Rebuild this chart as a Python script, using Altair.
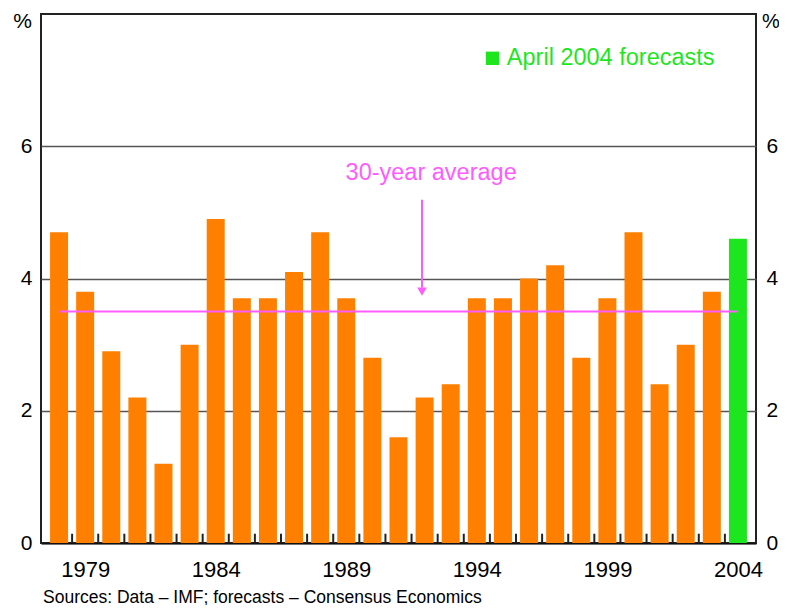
import altair as alt
import pandas as pd

# ---- data ----
years = list(range(1978, 2005))
growth = [4.7, 3.8, 2.9, 2.2, 1.2, 3.0, 4.9, 3.7, 3.7, 4.1, 4.7, 3.7, 2.8, 1.6,
          2.2, 2.4, 3.7, 3.7, 4.0, 4.2, 2.8, 3.7, 4.7, 2.4, 3.0, 3.8, 4.6]
forecast_years = [2004]
label_years = [1979, 1984, 1989, 1994, 1999, 2004]
y_ticks = [0, 2, 4, 6]
average = 3.5

title_text = "World GDP Growth"
source_text = "Sources: Data \u2013 IMF; forecasts \u2013 Consensus Economics"
legend_text = "April 2004 forecasts"
avg_text = "30-year average"

# annotation anchors (data units)
legend_pos = (1994.6, 7.33)
legend_text_pos = (1995.15, 7.33)
avg_label_pos = (1992.25, 5.6)
arrow_x = 1991.9
arrow_top = 5.19
arrow_end = 3.86
arrow_head = 3.80
tick_len = 0.14  # inward x-tick length, in y units

ORANGE = "#ff8000"
GREEN = "#1ee61e"
MAGENTA = "#ff5cff"
FONT = "Liberation Sans"

W, H = 715, 529

df = pd.DataFrame({
    "year": years,
    "growth": growth,
    "kind": ["Forecast" if y in forecast_years else "Actual" for y in years],
})
boundaries = [y + 0.5 for y in years[:-1]]
bounds = pd.DataFrame({"b": boundaries, "y0": 0.0, "y1": tick_len})

xs = alt.Scale(domain=[years[0] - 0.5, years[-1] + 0.5], nice=False, zero=False)
ys = alt.Scale(domain=[0, 8], nice=False)

bars = alt.Chart(df).mark_bar(width=18).encode(
    x=alt.X("year:Q", scale=xs, title=None,
            axis=alt.Axis(values=label_years, format="d", ticks=False, grid=False,
                          labelPadding=16, labelFontSize=22, labelColor="#000",
                          domainColor="#111", domainWidth=2, labelFont=FONT)),
    y=alt.Y("growth:Q", scale=ys, title=None,
            axis=alt.Axis(values=y_ticks, orient="left", grid=True, gridColor="#555",
                          gridWidth=1.5, ticks=False, domain=False, labelPadding=9,
                          labelFontSize=21, labelColor="#000", labelFont=FONT)),
    color=alt.Color("kind:N", scale=alt.Scale(domain=["Actual", "Forecast"],
                                              range=[ORANGE, GREEN]), legend=None),
)

# inward ticks at the year boundaries
ticks = alt.Chart(bounds).mark_rule(color="#222", strokeWidth=2).encode(
    x=alt.X("b:Q", scale=xs, axis=None),
    y=alt.Y("y0:Q", scale=ys, axis=None),
    y2="y1:Q",
)

avg_df = pd.DataFrame({"x1": [years[0]], "x2": [years[-1]], "y": [average]})
avg_line = alt.Chart(avg_df).mark_rule(color=MAGENTA, strokeWidth=2).encode(
    x=alt.X("x1:Q", scale=xs, axis=None),
    x2="x2:Q",
    y=alt.Y("y:Q", scale=ys, title=None,
            axis=alt.Axis(values=y_ticks, orient="right", grid=False, ticks=False,
                          domain=False, labelPadding=10, labelFontSize=21,
                          labelColor="#000", labelFont=FONT)),
)

arrow_df = pd.DataFrame({"x": [arrow_x], "y1": [arrow_top], "y2": [arrow_end], "yh": [arrow_head]})
arrow_line = alt.Chart(arrow_df).mark_rule(color=MAGENTA, strokeWidth=2).encode(
    x=alt.X("x:Q", scale=xs, axis=None),
    y=alt.Y("y1:Q", scale=ys, axis=None),
    y2="y2:Q",
)
arrow_tip = alt.Chart(arrow_df).mark_point(shape="triangle-down", filled=True,
                                           color=MAGENTA, size=90, opacity=1).encode(
    x=alt.X("x:Q", scale=xs, axis=None),
    y=alt.Y("yh:Q", scale=ys, axis=None),
)

avg_lab = alt.Chart(pd.DataFrame({"x": [avg_label_pos[0]], "y": [avg_label_pos[1]], "t": [avg_text]})
                    ).mark_text(font=FONT, fontSize=23.5, color=MAGENTA, align="center",
                                baseline="middle").encode(
    x=alt.X("x:Q", scale=xs, axis=None),
    y=alt.Y("y:Q", scale=ys, axis=None),
    text="t:N",
)

leg_sq = alt.Chart(pd.DataFrame({"x": [legend_pos[0]], "y": [legend_pos[1]]})
                   ).mark_square(size=180, color=GREEN, filled=True, opacity=1).encode(
    x=alt.X("x:Q", scale=xs, axis=None),
    y=alt.Y("y:Q", scale=ys, axis=None),
)
leg_txt = alt.Chart(pd.DataFrame({"x": [legend_text_pos[0]], "y": [legend_text_pos[1]], "t": [legend_text]})
                    ).mark_text(font=FONT, fontSize=23.5, color=GREEN, align="left",
                                baseline="middle").encode(
    x=alt.X("x:Q", scale=xs, axis=None),
    y=alt.Y("y:Q", scale=ys, axis=None),
    text="t:N",
)

pct_l = alt.Chart(pd.DataFrame({"t": ["%"]})).mark_text(
    font=FONT, fontSize=21, align="right", baseline="middle", color="#000").encode(
    x=alt.value(-9), y=alt.value(8), text="t:N")
pct_r = alt.Chart(pd.DataFrame({"t": ["%"]})).mark_text(
    font=FONT, fontSize=20, align="left", baseline="middle", color="#000").encode(
    x=alt.value(W + 6), y=alt.value(8), text="t:N")

title = alt.Chart(pd.DataFrame({"t": [title_text]})).mark_text(
    font=FONT, fontSize=30, fontWeight="bold", align="center", baseline="alphabetic",
    color="#000").encode(x=alt.value(W / 2 + 2), y=alt.value(-9), text="t:N")

source = alt.Chart(pd.DataFrame({"t": [source_text]})).mark_text(
    font=FONT, fontSize=17.5, align="left", baseline="alphabetic", color="#000").encode(
    x=alt.value(2), y=alt.value(H + 60), text="t:N")

chart = alt.layer(
    bars, ticks, avg_line, arrow_line, arrow_tip, avg_lab, leg_sq, leg_txt,
    pct_l, pct_r, title, source
).resolve_axis(x="independent", y="independent").properties(
    width=W, height=H,
    autosize=alt.AutoSizeParams(type="none"),
    padding={"left": 33, "top": 6, "right": 23, "bottom": 62},
).configure(
    background="white",
    view=alt.ViewConfig(stroke="#222", strokeWidth=2),
)

chart.save("out.html", embed_options={"renderer": "svg", "actions": False})
